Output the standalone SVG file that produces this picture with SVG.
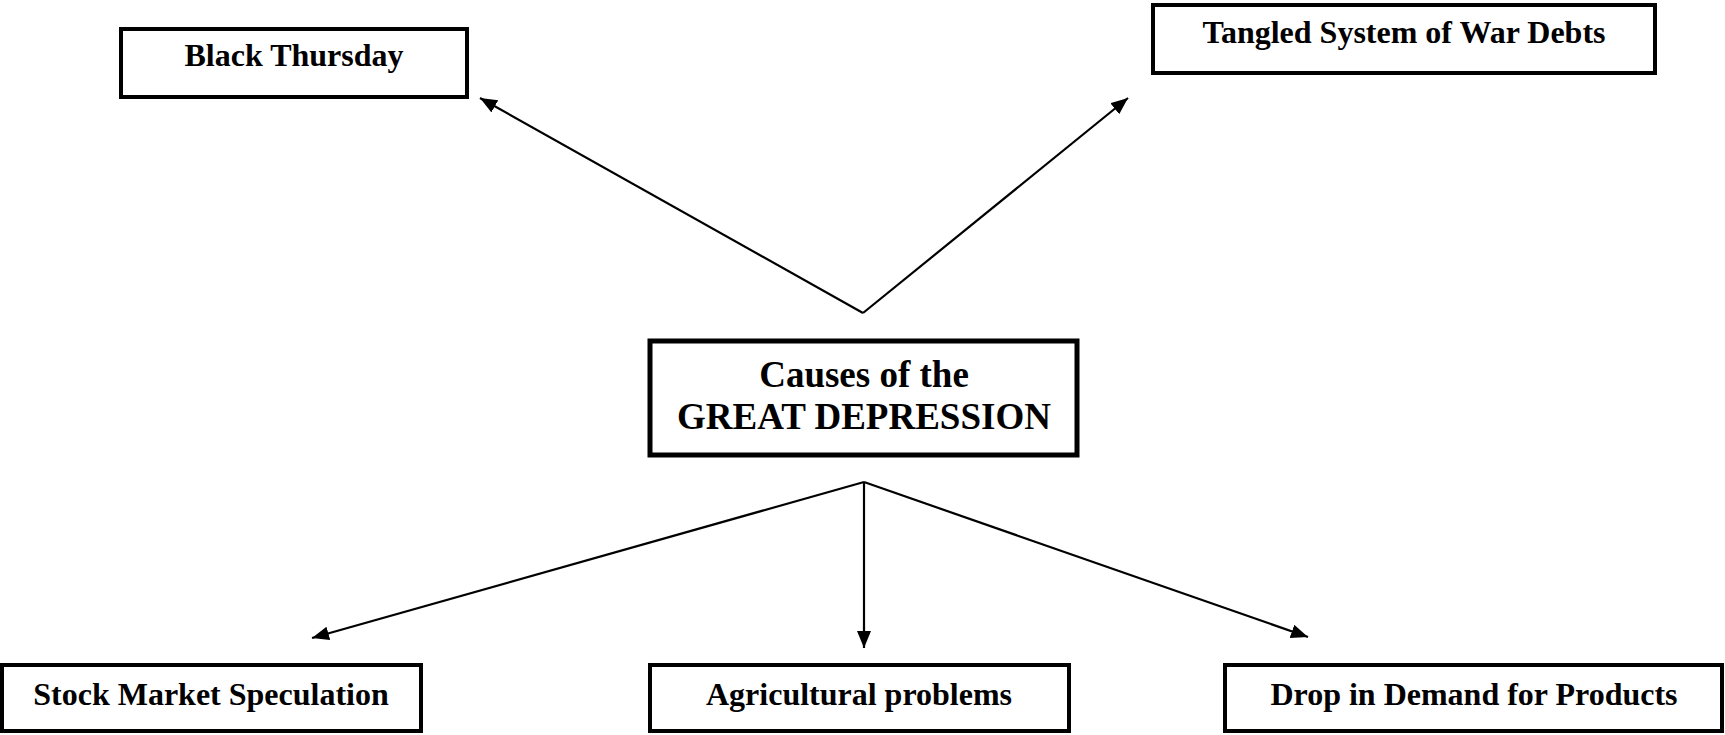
<svg xmlns="http://www.w3.org/2000/svg" width="1725" height="735" viewBox="0 0 1725 735">
  <style>
    .box { fill: #ffffff; stroke: #000000; stroke-width: 4; }
    .main { fill: #ffffff; stroke: #000000; stroke-width: 5; }
    .lbl { font-family: "Liberation Serif", "Times New Roman", serif; font-weight: bold; font-size: 32px; fill: #000000; text-anchor: middle; }
    .mlbl { font-family: "Liberation Serif", "Times New Roman", serif; font-weight: bold; font-size: 37px; fill: #000000; text-anchor: middle; }
    .conn { fill: none; stroke: #000000; stroke-width: 2.2; }
  </style>
  <defs>
    <marker id="arrow" markerUnits="userSpaceOnUse" markerWidth="20" markerHeight="16" refX="17" refY="7" orient="auto">
      <path d="M0,0 L17,7 L0,14 z" fill="#000000"/>
    </marker>
  </defs>
  <rect width="1725" height="735" fill="#ffffff"/>

  <g id="connectors">
    <line class="conn" x1="863" y1="313" x2="480" y2="98" marker-end="url(#arrow)"/>
    <line class="conn" x1="863" y1="313" x2="1128" y2="98" marker-end="url(#arrow)"/>
    <line class="conn" x1="864" y1="482" x2="312" y2="638" marker-end="url(#arrow)"/>
    <line class="conn" x1="864" y1="482" x2="864" y2="648" marker-end="url(#arrow)"/>
    <line class="conn" x1="864" y1="482" x2="1308" y2="637" marker-end="url(#arrow)"/>
  </g>

  <g id="black-thursday">
    <rect class="box" x="121" y="29" width="346" height="68"/>
    <text class="lbl" x="294" y="66">Black Thursday</text>
  </g>

  <g id="war-debts">
    <rect class="box" x="1153" y="5" width="502" height="68"/>
    <text class="lbl" x="1404" y="43">Tangled System of War Debts</text>
  </g>

  <g id="great-depression">
    <rect class="main" x="650" y="341" width="427" height="114"/>
    <text class="mlbl" x="864" y="387">Causes of the</text>
    <text class="mlbl" x="864" y="429">GREAT DEPRESSION</text>
  </g>

  <g id="stock-market">
    <rect class="box" x="2" y="665" width="419" height="66"/>
    <text class="lbl" x="211" y="705">Stock Market Speculation</text>
  </g>

  <g id="agricultural">
    <rect class="box" x="650" y="665" width="419" height="66"/>
    <text class="lbl" x="859" y="705">Agricultural problems</text>
  </g>

  <g id="drop-demand">
    <rect class="box" x="1225" y="665" width="497" height="66"/>
    <text class="lbl" x="1474" y="705">Drop in Demand for Products</text>
  </g>
</svg>
